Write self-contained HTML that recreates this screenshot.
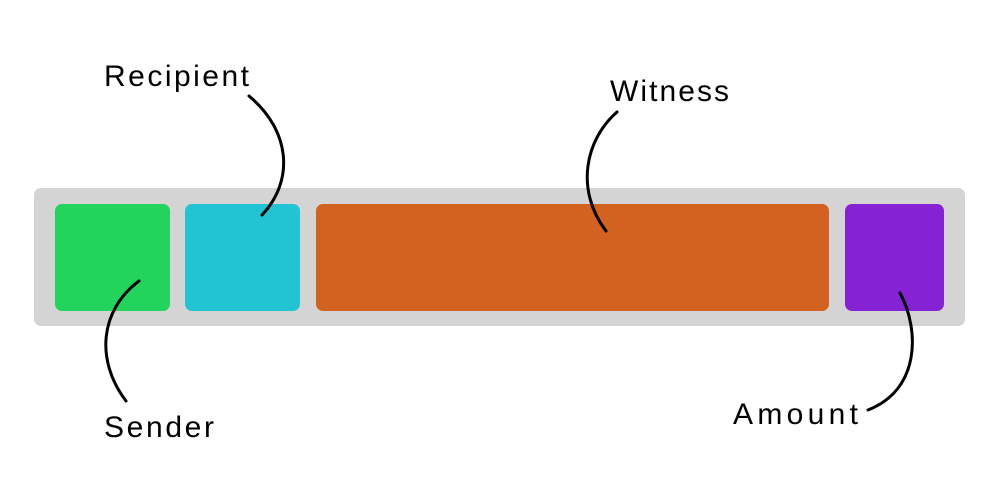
<!DOCTYPE html>
<html><head><style>
body{margin:0;width:1000px;height:497px;background:#fff;overflow:hidden}
</style></head><body>
<svg width="1000" height="497" xmlns="http://www.w3.org/2000/svg">
<rect x="34" y="188" width="931" height="138" rx="7" fill="#d4d4d4"/>
<rect x="55" y="204" width="115" height="107" rx="7" fill="#22d45c"/>
<rect x="185" y="204" width="115" height="107" rx="7" fill="#22c4d4"/>
<rect x="316" y="204" width="513" height="107" rx="7" fill="#d36221"/>
<rect x="845" y="204" width="99" height="107" rx="7" fill="#8422d4"/>
<g fill="none" stroke="#000" stroke-width="3" stroke-linecap="round">
<path d="M249,96 C290,130 295,180 262,215"/>
<path d="M139,281 C100,310 95,360 126,401"/>
<path d="M617,112 C585,140 575,190 606,231"/>
<path d="M900,293 C920,330 920,390 868,410"/>
</g>
<g font-family="Liberation Sans, sans-serif" font-size="30" fill="#000" lengthAdjust="spacing">
<text x="104" y="86" textLength="145">Recipient</text>
<text x="104" y="437" textLength="110">Sender</text>
<text x="610" y="101" textLength="119">Witness</text>
<text x="733" y="424" textLength="125">Amount</text>
</g>
</svg>
</body></html>
